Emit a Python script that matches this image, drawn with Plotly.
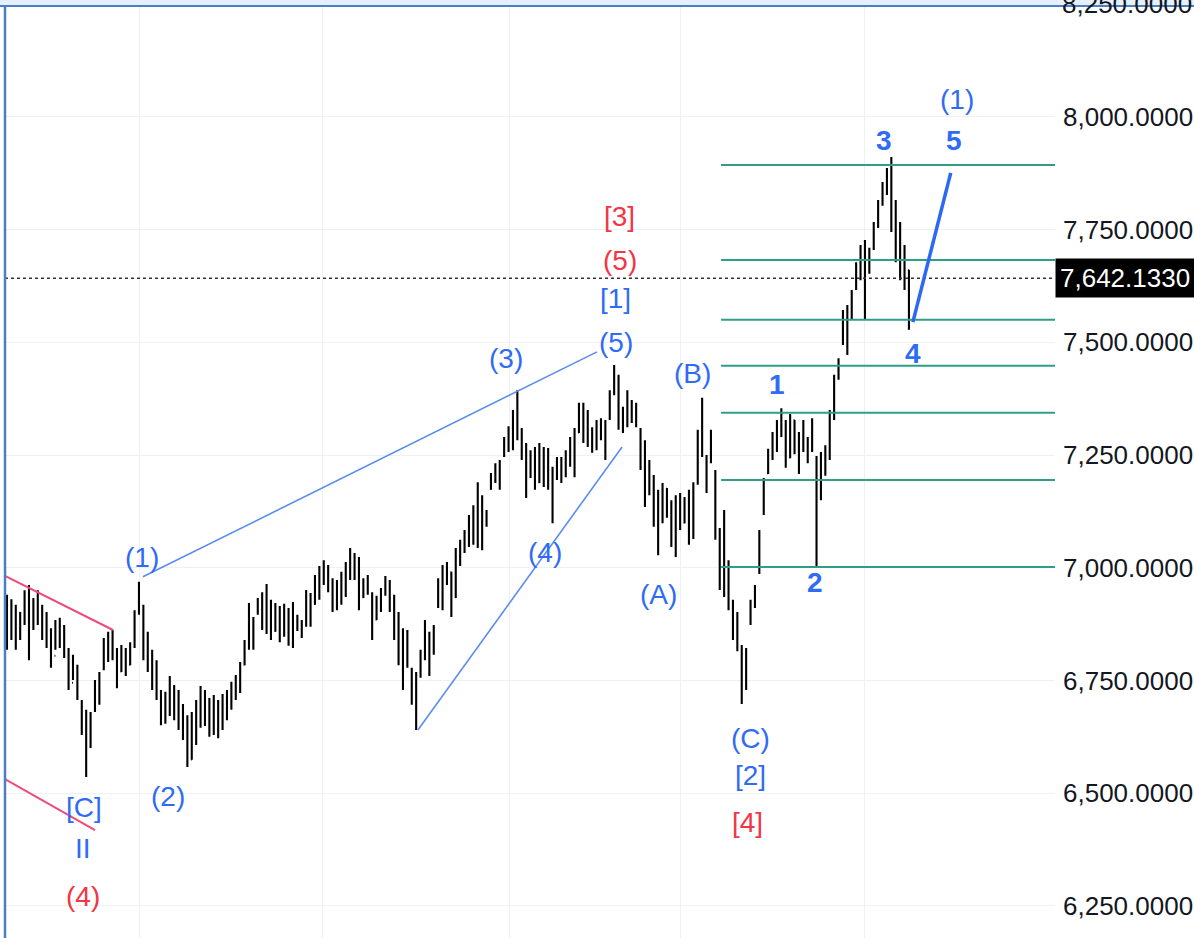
import plotly.graph_objects as go

# ---- price bars (one per session) ----
bar_idx = list(range(206))

highs = [
    6940, 6930, 6918, 6902, 6950, 6962, 6933, 6950, 6918, 6902,
    6866, 6884, 6889, 6873, 6822, 6807, 6785, 6707, 6685, 6680,
    6751, 6769, 6844, 6858, 6862, 6822, 6829, 6822, 6835, 6906,
    6969, 6918, 6858, 6818, 6795, 6729, 6725, 6760, 6740, 6729,
    6698, 6673, 6680, 6707, 6738, 6729, 6711, 6718, 6707, 6720,
    6729, 6747, 6762, 6791, 6840, 6922, 6891, 6933, 6946, 6964,
    6929, 6922, 6915, 6920, 6911, 6924, 6896, 6884, 6951, 6944,
    6984, 7004, 7017, 7006, 6977, 6973, 6991, 7013, 7044, 7033,
    7024, 6977, 6984, 6946, 6938, 6955, 6982, 6973, 6940, 6902,
    6866, 6862, 6778, 6769, 6818, 6884, 6858, 6873, 6977, 7006,
    7013, 6991, 7044, 7062, 7084, 7117, 7139, 7190, 7161, 7128,
    7210, 7232, 7239, 7290, 7314, 7350, 7394, 7310, 7277, 7261,
    7268, 7277, 7268, 7266, 7224, 7246, 7246, 7261, 7290, 7310,
    7366, 7366, 7350, 7312, 7328, 7332, 7328, 7394, 7450, 7428,
    7357, 7394, 7372, 7366, 7310, 7283, 7239, 7206, 7173, 7188,
    7177, 7150, 7161, 7166, 7157, 7173, 7190, 7306, 7377, 7250,
    7306, 7217, 7088, 7128, 7017, 6929, 6902, 6829, 6822, 6929,
    6962, 7084, 7199, 7264, 7301, 7328, 7354, 7328, 7341, 7328,
    7301, 7328, 7290, 7332, 7248, 7257, 7272, 7350, 7428, 7465,
    7572, 7583, 7616, 7678, 7716, 7727, 7710, 7767, 7816, 7856,
    7887, 7911, 7816, 7767, 7716, 7661,
]

lows = [
    6818, 6840, 6818, 6840, 6873, 6795, 6862, 6873, 6840, 6822,
    6778, 6818, 6822, 6800, 6729, 6751, 6707, 6629, 6536, 6600,
    6680, 6696, 6773, 6791, 6795, 6733, 6769, 6760, 6784, 6822,
    6896, 6795, 6769, 6729, 6707, 6651, 6654, 6671, 6662, 6640,
    6618, 6558, 6574, 6607, 6645, 6649, 6625, 6629, 6622, 6640,
    6662, 6685, 6707, 6722, 6784, 6818, 6818, 6896, 6862, 6853,
    6840, 6858, 6835, 6847, 6827, 6822, 6860, 6844, 6869, 6869,
    6918, 6929, 6962, 6946, 6902, 6906, 6918, 6935, 6973, 6973,
    6906, 6933, 6940, 6840, 6884, 6902, 6938, 6902, 6840, 6784,
    6729, 6778, 6696, 6640, 6756, 6795, 6760, 6807, 6911, 6906,
    6962, 6891, 6933, 7004, 7033, 7046, 7051, 7044, 7039, 7091,
    7173, 7188, 7173, 7246, 7257, 7261, 7283, 7239, 7155, 7199,
    7173, 7188, 7179, 7173, 7099, 7195, 7188, 7201, 7224, 7201,
    7299, 7277, 7268, 7255, 7261, 7283, 7239, 7328, 7383, 7306,
    7299, 7312, 7321, 7312, 7217, 7135, 7161, 7091, 7028, 7099,
    7111, 7046, 7024, 7084, 7099, 7051, 7064, 7184, 7246, 7166,
    7232, 7062, 6951, 6935, 6906, 6840, 6815, 6698, 6729, 6873,
    6911, 6986, 7117, 7208, 7239, 7257, 7290, 7222, 7243, 7252,
    7208, 7257, 7232, 7257, 7002, 7150, 7204, 7239, 7328, 7417,
    7494, 7472, 7550, 7616, 7638, 7550, 7652, 7705, 7754, 7803,
    7827, 7745, 7678, 7638, 7616, 7528,
]

opens = [
    6830, 6900, 6870, 6900, 6880, 6940, 6865, 6920, 6890, 6880,
    6840, 6805, 6865, 6840, 6810, 6745, 6780, 6700, 6640, 6605,
    6685, 6735, 6775, 6830, 6800, 6820, 6770, 6810, 6785, 6830,
    6900, 6915, 6815, 6780, 6750, 6715, 6665, 6710, 6735, 6680,
    6660, 6630, 6575, 6660, 6700, 6720, 6665, 6700, 6645, 6690,
    6705, 6720, 6740, 6755, 6785, 6835, 6885, 6900, 6925, 6880,
    6925, 6860, 6905, 6850, 6905, 6845, 6890, 6865, 6880, 6935,
    6920, 6970, 6990, 6970, 6970, 6915, 6960, 6985, 7005, 7025,
    6990, 6935, 6965, 6940, 6885, 6925, 6945, 6970, 6910, 6850,
    6800, 6785, 6770, 6705, 6760, 6805, 6855, 6810, 6915, 6965,
    6965, 6990, 6935, 7030, 7040, 7070, 7100, 7055, 7150, 7095,
    7175, 7195, 7225, 7250, 7280, 7300, 7340, 7300, 7245, 7205,
    7250, 7190, 7260, 7190, 7220, 7200, 7235, 7205, 7250, 7285,
    7300, 7355, 7290, 7305, 7265, 7320, 7290, 7330, 7390, 7425,
    7310, 7345, 7365, 7330, 7300, 7230, 7165, 7200, 7105, 7110,
    7175, 7125, 7060, 7150, 7100, 7145, 7070, 7190, 7290, 7245,
    7240, 7210, 7080, 6960, 7010, 6920, 6845, 6825, 6735, 6880,
    6920, 6990, 7120, 7210, 7255, 7290, 7320, 7325, 7245, 7328,
    7265, 7260, 7285, 7260, 7245, 7160, 7245, 7265, 7345, 7420,
    7500, 7560, 7555, 7620, 7665, 7700, 7655, 7710, 7760, 7810,
    7850, 7880, 7760, 7690, 7650, 7660,
]

closes = [
    6900, 6870, 6905, 6850, 6940, 6820, 6925, 6890, 6860, 6835,
    6800, 6870, 6835, 6810, 6740, 6790, 6715, 6640, 6600, 6670,
    6740, 6760, 6835, 6800, 6850, 6750, 6815, 6775, 6830, 6895,
    6925, 6810, 6780, 6745, 6720, 6665, 6715, 6750, 6675, 6660,
    6630, 6570, 6665, 6700, 6725, 6660, 6700, 6640, 6695, 6710,
    6720, 6740, 6755, 6785, 6835, 6910, 6830, 6925, 6880, 6950,
    6855, 6910, 6845, 6910, 6840, 6915, 6865, 6880, 6940, 6880,
    6975, 6995, 6970, 6995, 6910, 6965, 6985, 7005, 7030, 6985,
    6915, 6970, 6945, 6850, 6930, 6945, 6975, 6910, 6850, 6800,
    6745, 6845, 6705, 6655, 6810, 6870, 6770, 6865, 6970, 6920,
    7005, 6900, 7035, 7055, 7075, 7110, 7060, 7180, 7050, 7120,
    7205, 7225, 7180, 7285, 7305, 7340, 7300, 7245, 7165, 7255,
    7180, 7265, 7185, 7255, 7110, 7240, 7195, 7255, 7285, 7210,
    7360, 7285, 7345, 7260, 7320, 7290, 7320, 7385, 7440, 7315,
    7350, 7385, 7330, 7360, 7225, 7145, 7230, 7100, 7040, 7180,
    7120, 7055, 7150, 7090, 7150, 7060, 7180, 7295, 7255, 7175,
    7300, 7070, 6960, 7115, 6915, 6850, 6890, 6710, 6815, 6920,
    6955, 7075, 7190, 7255, 7295, 7320, 7345, 7235, 7335, 7260,
    7215, 7320, 7240, 7325, 7020, 7250, 7265, 7345, 7420, 7460,
    7565, 7480, 7610, 7670, 7705, 7565, 7700, 7760, 7810, 7850,
    7880, 7760, 7690, 7650, 7700, 7642.133,
]

last_price = 7642.133
fib_levels = [7893.5, 7683, 7550, 7448, 7344, 7195, 7002]
price_ticks = [6250, 6500, 6750, 7000, 7250, 7500, 7750, 8000]
top_tick = 8250
time_grid = [30.2, 71.6, 114.3, 153.0, 195.0]

FONT = "Liberation Sans, Arial, sans-serif"
BLUE = "#2f6bf5"
RED = "#f23645"
X_RANGE = [-0.45, 238.2]

fig = go.Figure()
fig.add_trace(go.Ohlc(x=bar_idx, open=opens, high=highs, low=lows, close=closes,
                      increasing=dict(line=dict(color="black", width=2.1)),
                      decreasing=dict(line=dict(color="black", width=2.1)),
                      tickwidth=0.2, hoverinfo="skip"))

# last price dotted line
fig.add_shape(type="line", xref="x", yref="y", x0=X_RANGE[0], x1=X_RANGE[1],
              y0=last_price, y1=last_price, opacity=1,
              line=dict(color="#333333", width=1.5, dash="dot"))

# fib retracement levels
for lvl in fib_levels:
    fig.add_shape(type="line", xref="x", yref="y", x0=162.3, x1=X_RANGE[1], y0=lvl, y1=lvl,
                  opacity=1, line=dict(color="#2e9e88", width=2))

# trend lines drawn on the chart
trend_lines = [
    (30.9, 6980, 134.1, 7479, "#5b8def", 1.6),
    (93.4, 6640, 139.8, 7268, "#5b8def", 1.6),
    (-0.45, 6982, 24.1, 6862, "#ef4a78", 2),
    (-0.45, 6531, 20.0, 6418, "#ef4a78", 2),
    (205.9, 7545, 214.5, 7876, "#2d68f2", 3.5),
]
for x0, y0, x1, y1, col, w in trend_lines:
    fig.add_shape(type="line", xref="x", yref="y", x0=x0, y0=y0, x1=x1, y1=y1,
                  opacity=1, line=dict(color=col, width=w))

# wave counts
waves = [
    ("(1)", 30.7, 7022, BLUE, False),
    ("(2)", 36.6, 6492, BLUE, False),
    ("[C]", 17.5, 6468, BLUE, False),
    ("II", 17.3, 6378, BLUE, False),
    ("(4)", 17.3, 6270, RED, False),
    ("(3)", 113.4, 7465, BLUE, False),
    ("(4)", 122.2, 7033, BLUE, False),
    ("(5)", 138.4, 7499, BLUE, False),
    ("[1]", 138.4, 7598, BLUE, False),
    ("(5)", 139.3, 7681, RED, False),
    ("[3]", 139.3, 7780, RED, False),
    ("(B)", 155.7, 7432, BLUE, False),
    ("(A)", 148.0, 6940, BLUE, False),
    ("(C)", 169.1, 6622, BLUE, False),
    ("[2]", 169.1, 6540, BLUE, False),
    ("[4]", 168.4, 6436, RED, False),
    ("1", 175.0, 7406, BLUE, True),
    ("2", 183.7, 6968, BLUE, True),
    ("3", 199.3, 7948, BLUE, True),
    ("4", 205.9, 7475, BLUE, True),
    ("5", 215.3, 7948, BLUE, True),
    ("(1)", 216.0, 8038, BLUE, False),
]
for txt, x, y, col, bold in waves:
    fig.add_annotation(x=x, y=y, xref="x", yref="y", text=f"<b>{txt}</b>" if bold else txt,
                       showarrow=False, font=dict(family=FONT, size=28, color=col))

# last price tag
fig.add_annotation(xref="paper", yref="y", x=1, y=last_price, xanchor="left", yanchor="middle",
                   text=f"{last_price:,.4f}", showarrow=False, bgcolor="black", borderpad=4,
                   font=dict(family=FONT, size=26, color="white"))

# top price level, only partly visible at the window edge
fig.add_annotation(xref="paper", yref="y", x=1, y=top_tick, xanchor="left", yanchor="middle",
                   xshift=5, text=f"{top_tick:,.4f}", showarrow=False,
                   font=dict(family=FONT, size=26, color="#131722"))

# window frame
fig.add_shape(type="rect", xref="paper", yref="paper", x0=-0.01, x1=1.2, y0=0.9936, y1=1.01,
              fillcolor="#e4f0fb", opacity=1, line=dict(width=0), layer="above")
fig.add_shape(type="line", xref="paper", yref="paper", x0=-0.01, x1=1.2, y0=0.9936, y1=0.9936,
              opacity=1, line=dict(color="#4a7fc6", width=2), layer="above")
fig.add_shape(type="line", xref="paper", yref="paper", x0=0, x1=0, y0=0, y1=0.9936,
              opacity=1, line=dict(color="#4a7fc6", width=2.5), layer="above")

fig.update_layout(template="simple_white",
                  width=1194, height=938,
                  margin=dict(l=5, r=139, t=0, b=0),
                  showlegend=False,
                  plot_bgcolor="white", paper_bgcolor="white",
                  font=dict(family=FONT, size=26, color="#131722"))
fig.update_xaxes(range=X_RANGE, rangeslider_visible=False, tickvals=time_grid,
                 showticklabels=False, ticks="", showgrid=True, gridcolor="#eef0f3",
                 showline=False, zeroline=False)
fig.update_yaxes(side="right", range=[6178.8, 8259.5], tickvals=price_ticks, tickformat=",.4f",
                 ticks="", showgrid=True, gridcolor="#eef0f3", showline=False, zeroline=False,
                 ticklabelstandoff=7, tickfont=dict(family=FONT, size=26, color="#131722"))

fig.write_html("out.html", config={"displayModeBar": False},
               post_script="document.body.style.margin='0';")
